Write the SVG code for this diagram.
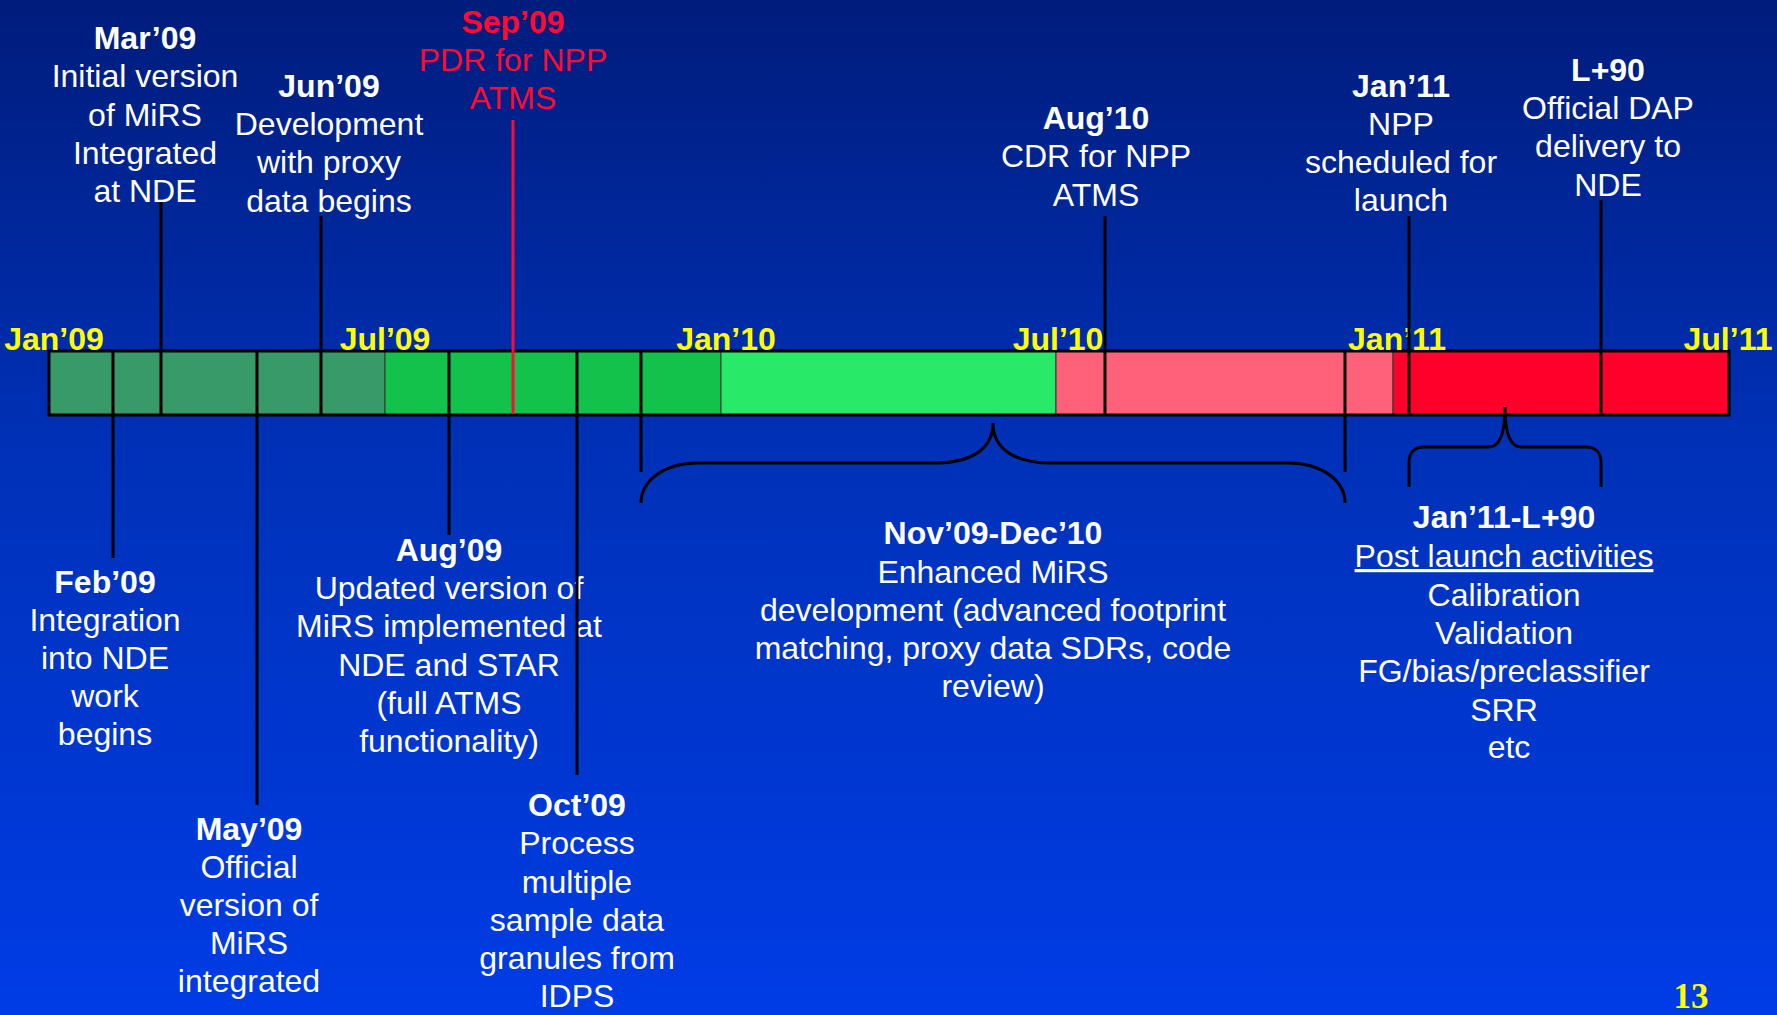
<svg xmlns="http://www.w3.org/2000/svg" width="1777" height="1015" viewBox="0 0 1777 1015">
<defs>
<linearGradient id="bg" x1="0" y1="0" x2="0" y2="1">
<stop offset="0" stop-color="#001c7c"/>
<stop offset="0.45" stop-color="#0031b8"/>
<stop offset="1" stop-color="#003ce6"/>
</linearGradient>
<style>
text{font-family:"Liberation Sans",Arial,sans-serif;font-size:32px;fill:#ffffff;text-anchor:middle}
.b{font-weight:bold}
.red{fill:#ff0a30}
.mon{fill:#ffff00;font-weight:bold}
.pg{font-family:"Liberation Serif","Times New Roman",serif;font-weight:bold;font-size:35px;fill:#ffff00}
.seg{stroke:#2a3a30;stroke-width:1}
.ln{stroke:#000000;stroke-width:3;fill:none}
.rl{stroke:#ff0a30;stroke-width:3;fill:none}
.br{stroke:#000000;stroke-width:3;fill:none}
</style>
</defs>
<rect x="0" y="0" width="1777" height="1015" fill="url(#bg)"/>

<g id="timeline-bar">
<rect class="seg" x="49" y="351" width="336" height="64" fill="#389a68"/>
<rect class="seg" x="385" y="351" width="336" height="64" fill="#13c24b"/>
<rect class="seg" x="721" y="351" width="335" height="64" fill="#28ea68"/>
<rect class="seg" x="1056" y="351" width="337" height="64" fill="#ff607a"/>
<rect class="seg" x="1393" y="351" width="336" height="64" fill="#ff002b"/>
<rect x="49" y="351" width="1680" height="64" fill="none" stroke="#000" stroke-width="3"/>
</g>

<g id="month-labels">
<text class="mon" x="54" y="350">Jan’09</text>
<text class="mon" x="385" y="350">Jul’09</text>
<text class="mon" x="726" y="350">Jan’10</text>
<text class="mon" x="1058" y="350">Jul’10</text>
<text class="mon" x="1397" y="350">Jan’11</text>
<text class="mon" x="1728" y="350">Jul’11</text>
</g>

<g id="mar09">
<text class="b" x="145" y="49">Mar’09</text>
<text x="145" y="87">Initial version</text>
<text x="145" y="126">of MiRS</text>
<text x="145" y="164">Integrated</text>
<text x="145" y="202">at NDE</text>
</g>
<g id="jun09">
<text class="b" x="329" y="97">Jun’09</text>
<text x="329" y="135">Development</text>
<text x="329" y="173">with proxy</text>
<text x="329" y="212">data begins</text>
</g>
<g id="sep09">
<text class="b red" x="513" y="33">Sep’09</text>
<text class="red" x="513" y="71">PDR for NPP</text>
<text class="red" x="513" y="109">ATMS</text>
</g>
<g id="aug10">
<text class="b" x="1096" y="129">Aug’10</text>
<text x="1096" y="167">CDR for NPP</text>
<text x="1096" y="206">ATMS</text>
</g>
<g id="jan11">
<text class="b" x="1401" y="97">Jan’11</text>
<text x="1401" y="135">NPP</text>
<text x="1401" y="173">scheduled for</text>
<text x="1401" y="211">launch</text>
</g>
<g id="l90">
<text class="b" x="1608" y="81">L+90</text>
<text x="1608" y="119">Official DAP</text>
<text x="1608" y="157">delivery to</text>
<text x="1608" y="196">NDE</text>
</g>
<g id="feb09">
<text class="b" x="105" y="593">Feb’09</text>
<text x="105" y="631">Integration</text>
<text x="105" y="669">into NDE</text>
<text x="105" y="707">work</text>
<text x="105" y="745">begins</text>
</g>
<g id="may09">
<text class="b" x="249" y="840">May’09</text>
<text x="249" y="878">Official</text>
<text x="249" y="916">version of</text>
<text x="249" y="954">MiRS</text>
<text x="249" y="992">integrated</text>
</g>
<g id="aug09">
<text class="b" x="449" y="561">Aug’09</text>
<text x="449" y="599">Updated version of</text>
<text x="449" y="637">MiRS implemented at</text>
<text x="449" y="676">NDE and STAR</text>
<text x="449" y="714">(full ATMS</text>
<text x="449" y="752">functionality)</text>
</g>
<g id="oct09">
<text class="b" x="577" y="816">Oct’09</text>
<text x="577" y="854">Process</text>
<text x="577" y="893">multiple</text>
<text x="577" y="931">sample data</text>
<text x="577" y="969">granules from</text>
<text x="577" y="1007">IDPS</text>
</g>
<g id="nov09-dec10">
<text class="b" x="993" y="544">Nov’09-Dec’10</text>
<text x="993" y="583">Enhanced MiRS</text>
<text x="993" y="621">development (advanced footprint</text>
<text x="993" y="659">matching, proxy data SDRs, code</text>
<text x="993" y="697">review)</text>
</g>
<g id="jan11-l90">
<text class="b" x="1504" y="528">Jan’11-L+90</text>
<text x="1504" y="567" text-decoration="underline">Post launch activities</text>
<text x="1504" y="606">Calibration</text>
<text x="1504" y="644">Validation</text>
<text x="1504" y="682">FG/bias/preclassifier</text>
<text x="1504" y="721">SRR</text>
<text x="1509" y="758">etc</text>
</g>
<g id="page-number">
<text class="pg" x="1691" y="1008">13</text>
</g>

<g id="connectors">
<line class="ln" x1="161" y1="202" x2="161" y2="415"/>
<line class="ln" x1="321" y1="216" x2="321" y2="415"/>
<line class="rl" x1="513" y1="120" x2="513" y2="414"/>
<line class="ln" x1="1105" y1="216" x2="1105" y2="415"/>
<line class="ln" x1="1409" y1="216" x2="1409" y2="415"/>
<line class="ln" x1="1601" y1="200" x2="1601" y2="415"/>
<line class="ln" x1="113" y1="351" x2="113" y2="558"/>
<line class="ln" x1="257" y1="351" x2="257" y2="805"/>
<line class="ln" x1="449" y1="351" x2="449" y2="535"/>
<line class="ln" x1="577" y1="351" x2="577" y2="775"/>
<line class="ln" x1="641" y1="351" x2="641" y2="472"/>
<line class="ln" x1="1345" y1="351" x2="1345" y2="472"/>
<path class="br" d="M641,503 C641,481 664,463 697,463 L934,463 C970,463 993,450 993,423 C993,450 1016,463 1052,463 L1289,463 C1322,463 1345,481 1345,503"/>
<path class="br" d="M1409,487 L1409,463 C1409,452 1414,447 1425,447 L1489,447 C1500,447 1505,432 1505,407 C1505,432 1510,447 1521,447 L1585,447 C1596,447 1601,452 1601,463 L1601,487"/>
</g>
</svg>
